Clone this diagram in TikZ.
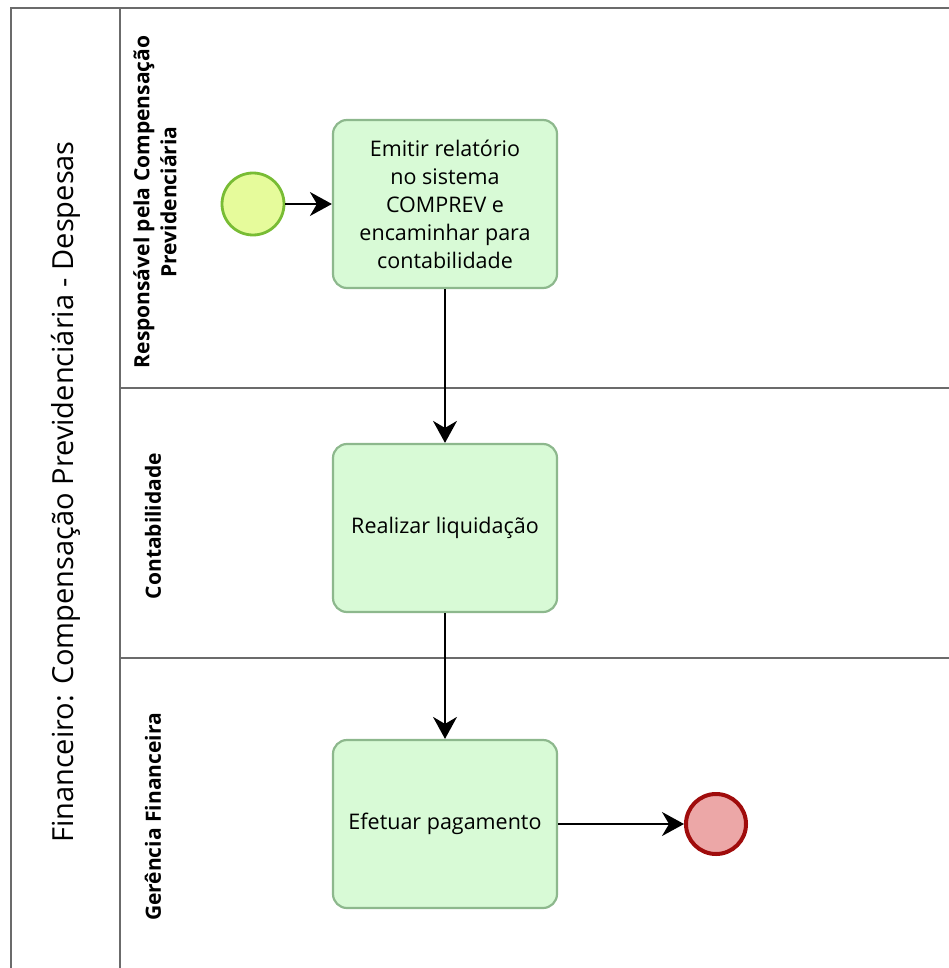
\documentclass[tikz,border=0pt]{standalone}
\usepackage{fontspec}
\setmainfont{Open Sans}
\usetikzlibrary{arrows.meta}
\definecolor{poolline}{HTML}{6B6B6B}
\definecolor{taskfill}{HTML}{D8FAD6}
\definecolor{taskdraw}{HTML}{8DB88D}
\definecolor{startfill}{HTML}{E6FB9B}
\definecolor{startdraw}{HTML}{78BC34}
\definecolor{endfill}{HTML}{ECA7A7}
\definecolor{enddraw}{HTML}{A00C0C}
\tikzset{
  poolborder/.style={draw=poolline, line width=2.4pt},
  lanelabel/.style={rotate=90, font=\fontsize{21}{27}\selectfont\bfseries, align=center, inner sep=0pt},
  poollabel/.style={rotate=90, font=\fontsize{29}{34}\selectfont, inner sep=0pt},
  taskbox/.style={draw=taskdraw, fill=taskfill, line width=2.2pt, rounded corners=14pt,
    minimum width=224pt, minimum height=168pt, align=center, inner sep=4pt,
    font=\fontsize{21.5}{28}\selectfont},
  startev/.style={circle, draw=startdraw, fill=startfill, line width=2.8pt, minimum size=62pt, inner sep=0pt},
  endev/.style={circle, draw=enddraw, fill=endfill, line width=4pt, minimum size=60pt, inner sep=0pt},
  flow/.style={draw=black, line width=1.8pt, -{Stealth[length=22pt,width=24pt,inset=7pt]}}
}
\begin{document}
\begin{tikzpicture}[x=1pt,y=-1pt]
\useasboundingbox (0,0) rectangle (949,968);
% pool and lanes
\draw[poolborder] (949,8) -- (11,8) -- (11,975);
\draw[poolborder] (120,8) -- (120,975);
\draw[poolborder] (120,388) -- (949,388);
\draw[poolborder] (120,658) -- (949,658);
% labels
\node[poollabel] (pl) at (66,492) {Financeiro: Compensação Previdenciária - Despesas};
\node[lanelabel] (l1) at (155,202) {Responsável pela Compensação\\Previdenciária};
\node[lanelabel] (l2) at (153,526) {Contabilidade};
\node[lanelabel] (l3) at (153,817) {Gerência Financeira};
% flow objects
\node[startev] (start) at (253,204) {};
\node[taskbox] (t1) at (445,204) {Emitir relatório\\no sistema\\COMPREV e\\encaminhar para\\contabilidade};
\node[taskbox] (t2) at (445,528) {Realizar liquidação};
\node[taskbox] (t3) at (445,824) {Efetuar pagamento};
\node[endev] (end) at (716,824) {};
% connectors
\draw[flow] (start) -- (t1);
\draw[flow] (t1) -- (t2);
\draw[flow] (t2) -- (t3);
\draw[flow] (t3) -- (end);
\end{tikzpicture}
\end{document}
